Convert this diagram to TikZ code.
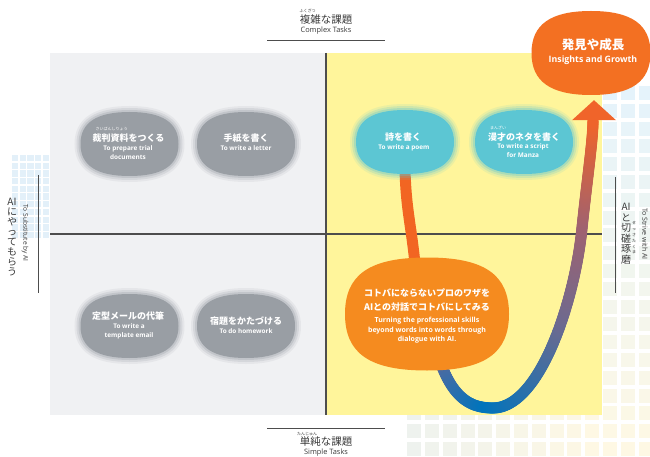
\documentclass[tikz,border=0pt]{standalone}
\usepackage{fontspec}
\setmainfont{Open Sans}
\newfontfamily\jp{Noto Sans CJK JP}
\usetikzlibrary{decorations.markings,calc}
\definecolor{cGrayBg}{HTML}{F0F1F3}
\definecolor{cYel}{HTML}{FFF59B}
\definecolor{cGrayBlob}{HTML}{999EA4}
\definecolor{cCyan}{HTML}{5CC6D3}
\definecolor{cOrMid}{HTML}{F58B1F}
\definecolor{cOrTop}{HTML}{F37022}
\definecolor{cOrLine}{HTML}{F26522}
\definecolor{cLine}{HTML}{4D4D4D}
\definecolor{cText}{HTML}{3A3A3A}
\definecolor{cGridB}{HTML}{E3F0F9}
\definecolor{cGridB2}{HTML}{E5F3FB}
\definecolor{cGridY}{HTML}{FEF8E4}
\definecolor{cGridG}{HTML}{EEF2EE}
\definecolor{uS}{HTML}{62689A}
\definecolor{uB}{HTML}{0074BC}
\definecolor{uP}{HTML}{6C6A90}
\definecolor{uM}{HTML}{A06270}
\definecolor{uO}{HTML}{F0642A}
\newcommand\mygradcol[1]{%
 \ifdim#1pt<0.19pt \pgfmathsetmacro\gp{max(0,min(100,#1/0.19*100))}\colorlet{gc}{uB!\gp!uS}%
 \else\ifdim#1pt<0.49pt \pgfmathsetmacro\gp{max(0,min(100,(#1-0.19)/0.30*100))}\colorlet{gc}{uP!\gp!uB}%
 \else\ifdim#1pt<0.74pt \pgfmathsetmacro\gp{max(0,min(100,(#1-0.49)/0.25*100))}\colorlet{gc}{uM!\gp!uP}%
 \else \pgfmathsetmacro\gp{max(0,min(100,(#1-0.74)/0.26*100))}\colorlet{gc}{uO!\gp!uM}\fi\fi\fi}
% blob outline around a named node: #1 node, #2 style, #3 half width, #4 half height, #5 squareness
\newcommand\myblob[5]{%
 \pgfmathsetmacro\ka{#5*#3}\pgfmathsetmacro\kb{#5*#4}%
 \path[#2, shift={(#1.center)}] (#3,0) .. controls (#3,\kb) and (\ka,#4) .. (0,#4)
   .. controls (-\ka,#4) and (-#3,\kb) .. (-#3,0)
   .. controls (-#3,-\kb) and (-\ka,-#4) .. (0,-#4)
   .. controls (\ka,-#4) and (#3,-\kb) .. (#3,0) -- cycle;}
\pgfdeclarelayer{bg}
\pgfdeclarelayer{conn}
\pgfsetlayers{bg,conn,main}
\tikzset{
 fuzzy/.style={fill=#1,
   preaction={draw=#1, line width=12pt, draw opacity=0.12},
   preaction={draw=#1, line width=8pt, draw opacity=0.2},
   preaction={draw=#1, line width=4pt, draw opacity=0.3}},
 anchorbox/.style={rectangle, inner sep=0pt},
 jpw/.style={font=\jp\bfseries\fontsize{9}{11}\selectfont, text=white, inner sep=0pt},
 enw/.style={font=\bfseries\fontsize{6.4}{9}\selectfont, text=white, inner sep=0pt, align=center},
 rubyw/.style={font=\jp\fontsize{4}{4}\selectfont, text=white, inner sep=0pt},
 rubyg/.style={font=\jp\fontsize{4}{4}\selectfont, text=cText, inner sep=0pt},
 axjp/.style={font=\jp\fontsize{10.5}{12}\selectfont, text=cText, inner sep=0pt},
 axen/.style={font=\fontsize{7.4}{8}\selectfont, text=cText, inner sep=0pt},
 axline/.style={draw=cLine, line width=1pt},
 gradline/.style={decoration={markings, mark=between positions 0 and 1 step 0.8pt with {%
   \pgfmathsetmacro\gf{\pgfkeysvalueof{/pgf/decoration/mark info/distance from start}/\pgfdecoratedpathlength}%
   \mygradcol{\gf}%
   \fill[gc] (0,0) circle (5.6pt);}}, decorate}
}
\begin{document}
\begin{tikzpicture}[x=1pt,y=-1pt]
\useasboundingbox (0,0) rectangle (650,457);
\begin{pgfonlayer}{bg}
\fill[white] (0,0) rectangle (650,457);
% left grid
\foreach \j in {0,...,10}{\foreach \i in {0,...,4}{\fill[cGridB] ({12+7.7*\i},{155+7.7*\j}) rectangle +(6.2,6.2);}}
% right grid
\foreach \j in {0,...,20}{%
  \pgfmathsetmacro\gp{100*\j/20}%
  \colorlet{gq}{cGridY!\gp!cGridB2}%
  \foreach \i in {11,12,13}{\fill[gq] ({407.2+17.8*\i},{86+17.8*\j}) rectangle +(14,14);}}
\foreach \j in {18,19,20}{\foreach \i in {0,...,10}{%
  \pgfmathsetmacro\gq{100*\i/10}%
  \colorlet{gq}{cGridY!\gq!cGridG}%
  \fill[gq] ({407.2+17.8*\i},{86+17.8*\j}) rectangle +(14,14);}}
% quadrants
\fill[cGrayBg] (50,53) rectangle (326,415);
\fill[cYel] (326,53) rectangle (602,415);
\draw[cLine, line width=1.1pt] (50,234) -- (602,234);
\draw[cLine, line width=1.3pt] (326,53) -- (326,415);
% axis label lines
\draw[axline] (267,41) -- (385,41);
\draw[axline] (267,428) -- (385,428);
\draw[axline] (38,175) -- (38,293);
\draw[axline] (615,177) -- (615,293);
\end{pgfonlayer}

% axis labels
\node[rubyg] (rtop) at (307.5,11) {ふくざつ};
\node[axjp] (top) at (326,19.5) {複雑な課題};
\node[axen] (topen) at (326,31) {Complex Tasks};
\node[rubyg] (rbot) at (307,434.5) {たんじゅん};
\node[axjp] (bot) at (326,442) {単純な課題};
\node[axen] (boten) at (326,452.5) {Simple Tasks};
\node[font=\jp\fontsize{10}{10}\selectfont, text=cText, inner sep=0pt, align=center] (left) at (12,237) {AI\\に\\や\\っ\\て\\も\\ら\\う};
\node[font=\fontsize{6.6}{7}\selectfont, text=cText, inner sep=0pt, rotate=-90] (lefen) at (25,233) {To Substitute by AI};
\node[font=\jp\fontsize{10}{10.5}\selectfont, text=cText, inner sep=0pt, align=center] (right) at (626,233.5) {AI\\と\\切\\磋\\琢\\磨};
\node[font=\jp\fontsize{4}{5.8}\selectfont, text=cText, inner sep=0pt, align=center] (rruby) at (634,238) {せ\\っ\\さ\\た\\く\\ま};
\node[font=\fontsize{7}{7}\selectfont, text=cText, inner sep=0pt, rotate=-90] (rigen) at (645,234) {To Strive with AI};

% blob anchor nodes
\node[anchorbox, minimum width=96pt, minimum height=62pt] (trial) at (129.5,144) {};
\node[anchorbox, minimum width=96pt, minimum height=62pt] (letter) at (246,144) {};
\node[anchorbox, minimum width=96pt, minimum height=62pt] (email) at (129.5,326) {};
\node[anchorbox, minimum width=96pt, minimum height=62pt] (hw) at (246,326) {};
\node[anchorbox, minimum width=96pt, minimum height=62pt] (poem) at (405,142) {};
\node[anchorbox, minimum width=96pt, minimum height=62pt] (manzai) at (524,142) {};
\node[anchorbox, minimum width=163pt, minimum height=112pt] (skill) at (427,314) {};
\node[anchorbox, minimum width=118pt, minimum height=84pt] (growth) at (591,53) {};

% blob shapes
\myblob{trial}{fuzzy=cGrayBlob}{49}{32}{0.67}
\myblob{letter}{fuzzy=cGrayBlob}{49}{32}{0.67}
\myblob{email}{fuzzy=cGrayBlob}{49}{32}{0.67}
\myblob{hw}{fuzzy=cGrayBlob}{49}{32}{0.67}
\myblob{poem}{fuzzy=cCyan}{49}{32}{0.67}
\myblob{manzai}{fuzzy=cCyan}{49}{32}{0.67}
\myblob{skill}{fill=cOrMid}{82}{56.5}{0.7}
\myblob{growth}{fill=cOrTop}{59.5}{42}{0.68}

% texts
\node[rubyw] (trialr) at (111.5,128.5) {さいばんしりょう};
\node[jpw] (trialj) at (128.5,138) {裁判資料をつくる};
\node[enw] (triale) at (128,152.5) {To prepare trial\\documents};
\node[jpw] (letterj) at (246,138) {手紙を書く};
\node[enw] (lettere) at (246,148) {To write a letter};
\node[jpw] (emailj) at (128,316.5) {定型メールの代筆};
\node[enw] (emaile) at (129,331.5) {To write a\\template email};
\node[jpw] (hwj) at (246,321) {宿題をかたづける};
\node[enw] (hwe) at (246,331) {To do homework};
\node[jpw] (poemj) at (403,137) {詩を書く};
\node[enw] (poeme) at (404,148) {To write a poem};
\node[rubyw] (manzair) at (498,127.5) {まんざい};
\node[jpw] (manzaij) at (524,137) {漫才のネタを書く};
\node[enw] (manzaie) at (523,151) {To write a script\\for Manza};
\node[font=\jp\bfseries\fontsize{9}{14}\selectfont, text=white, inner sep=0pt, align=center] (skillj) at (427,300) {コトバにならないプロのワザを\\AIとの対話でコトバにしてみる};
\node[font=\bfseries\fontsize{7}{9.5}\selectfont, text=white, inner sep=0pt, align=center] (skille) at (427,330.5) {Turning the professional skills\\beyond words into words through\\dialogue with AI.};
\node[font=\jp\bfseries\fontsize{12.5}{14}\selectfont, text=white, inner sep=0pt] (growthj) at (593,45) {発見や成長};
\node[font=\bfseries\fontsize{8.8}{10}\selectfont, text=white, inner sep=0pt] (growthe) at (593,60) {Insights and Growth};

% connectors
\begin{pgfonlayer}{conn}
\draw[cOrLine, line width=11pt] ([yshift=4pt]poem.south) .. controls +(1,40) and +(-4,-40) .. ([xshift=-12pt,yshift=-6pt]skill.north);
\path[gradline] ([xshift=11pt,yshift=-41pt]skill.center) .. controls (452,400) and (472,408) .. (493,408) .. controls (540,408) and (575,300) .. (582,228) .. controls (587,180) and (593,140) .. ([xshift=2pt,yshift=-25pt]growth.south);
\fill[uO] ([xshift=3pt,yshift=-5pt]growth.south) -- ++(-22,20) -- ++(44,0) -- cycle;
\end{pgfonlayer}
\end{tikzpicture}
\end{document}
